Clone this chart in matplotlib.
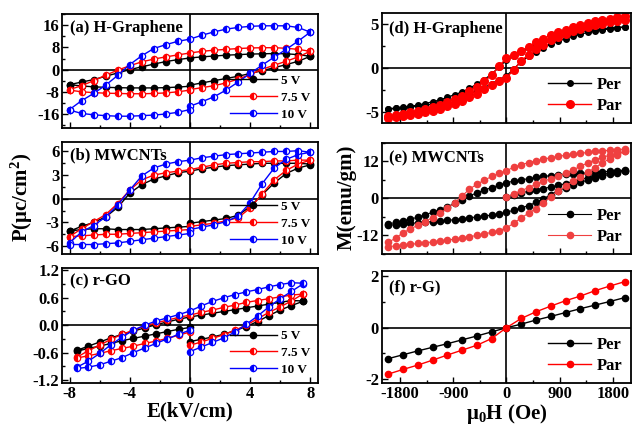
import matplotlib
matplotlib.use('Agg')
import matplotlib.pyplot as plt
from matplotlib.ticker import MultipleLocator

# fonts: bold Times-like everywhere
plt.rcParams['font.family'] = 'Liberation Serif'
plt.rcParams['font.weight'] = 'bold'
plt.rcParams['axes.labelweight'] = 'bold'
plt.rcParams['mathtext.fontset'] = 'custom'
plt.rcParams['mathtext.rm'] = 'Liberation Serif:bold'
plt.rcParams['mathtext.it'] = 'Liberation Serif:bold'
plt.rcParams['mathtext.bf'] = 'Liberation Serif:bold'
plt.rcParams['axes.unicode_minus'] = False
plt.rcParams['xtick.direction'] = 'in'
plt.rcParams['ytick.direction'] = 'in'

# ---------------- P-E loops ----------------
# E grids (kV/cm)
E_ab = [-8, -7.2, -6.4, -5.6, -4.8, -4, -3.2, -2.4, -1.6, -0.8, 0,
        0.8, 1.6, 2.4, 3.2, 4, 4.8, 5.6, 6.4, 7.2, 8]
E_c = [-7.5, -6.75, -6, -5.25, -4.5, -3.75, -3, -2.25, -1.5, -0.75, 0,
       0.75, 1.5, 2.25, 3, 3.75, 4.5, 5.25, 6, 6.75, 7.5]
volt_labels = ['5 V', '7.5 V', '10 V']

# (a) H-Graphene : upper branch (on E grid), lower branch left (E<=0) and right (E>=0)
a_up = [[-5.4, -4.5, -3.6, -2.4, -1.2, 0.0, 1.0, 2.0, 2.9, 3.6, 4.2,
         4.6, 4.9, 5.2, 5.4, 5.6, 5.7, 5.8, 5.7, 5.4, 4.8],
        [-7.2, -5.8, -4.0, -2.0, -0.2, 1.4, 2.8, 3.8, 4.6, 5.3, 6.0,
         6.6, 7.0, 7.3, 7.6, 7.8, 7.9, 7.9, 7.7, 7.3, 6.6],
        [-14.4, -11.2, -8.6, -5.6, -2.1, 1.8, 5.0, 7.6, 9.0, 10.2, 11.0,
         12.4, 13.6, 14.6, 15.2, 15.6, 15.8, 15.8, 15.8, 15.2, 13.5]]
a_lo_left = [[-5.4, -5.9, -6.2, -6.4, -6.5, -6.6, -6.6, -6.6, -6.5, -6.3, -6.0],
             [-7.4, -8.0, -8.3, -8.5, -8.6, -8.7, -8.7, -8.6, -8.4, -8.0, -7.4],
             [-14.6, -15.8, -16.3, -16.6, -16.8, -16.8, -16.6, -16.4, -16.0, -15.4, -14.4]]
a_lo_right = [[-5.6, -4.8, -4.0, -3.2, -2.4, -1.4, -0.4, 0.7, 1.8, 3.0, 4.8],
              [-7.2, -6.5, -5.8, -4.8, -3.4, -1.8, 0.1, 1.6, 3.0, 4.6, 6.6],
              [-13.2, -11.6, -9.8, -7.4, -4.5, -1.4, 1.6, 4.5, 7.3, 10.3, 13.5]]

# (b) MWCNTs
b_up = [[-4.1, -3.5, -3.0, -2.3, -1.1, 0.7, 1.8, 2.5, 2.9, 3.3, 3.5,
         3.8, 4.0, 4.2, 4.3, 4.4, 4.5, 4.5, 4.5, 4.5, 4.4],
        [-4.8, -3.8, -2.9, -2.0, -0.6, 1.1, 2.4, 3.0, 3.3, 3.5, 3.7,
         4.0, 4.3, 4.5, 4.6, 4.7, 4.7, 4.8, 4.8, 4.9, 4.9],
        [-5.6, -4.2, -3.4, -2.3, -0.8, 1.1, 2.9, 3.9, 4.4, 4.7, 4.9,
         5.2, 5.4, 5.6, 5.7, 5.8, 5.9, 6.0, 6.0, 6.1, 5.9]]
b_lo_left = [[-4.1, -3.9, -3.8, -3.8, -3.9, -3.9, -3.9, -3.8, -3.7, -3.6, -3.5],
             [-4.8, -4.7, -4.6, -4.5, -4.5, -4.4, -4.3, -4.2, -4.1, -4.0, -3.9],
             [-5.8, -5.8, -5.8, -5.7, -5.6, -5.4, -5.2, -5.0, -4.8, -4.6, -4.4]]
b_lo_right = [[-3.1, -2.9, -2.7, -2.5, -2.1, -1.0, 0.5, 2.0, 3.2, 3.9, 4.3],
              [-3.5, -3.3, -3.1, -2.8, -2.4, -1.2, 0.6, 2.4, 3.6, 4.4, 4.9],
              [-3.9, -3.6, -3.3, -2.9, -2.2, -0.5, 1.9, 3.9, 5.0, 5.6, 5.9]]

# (c) r-GO
c_up = [[-0.55, -0.46, -0.37, -0.28, -0.20, -0.13, -0.06, 0.01, 0.07, 0.13, 0.18,
         0.22, 0.26, 0.30, 0.34, 0.38, 0.42, 0.46, 0.50, 0.54, 0.53],
        [-0.70, -0.56, -0.44, -0.31, -0.20, -0.11, -0.02, 0.05, 0.11, 0.17, 0.22,
         0.28, 0.33, 0.39, 0.44, 0.50, 0.54, 0.58, 0.62, 0.66, 0.68],
        [-0.92, -0.79, -0.62, -0.43, -0.26, -0.11, 0.00, 0.09, 0.16, 0.23, 0.31,
         0.42, 0.52, 0.60, 0.67, 0.73, 0.78, 0.84, 0.89, 0.93, 0.92]]
c_lo_left = [[-0.57, -0.51, -0.46, -0.40, -0.34, -0.29, -0.24, -0.19, -0.14, -0.09, -0.05],
             [-0.72, -0.67, -0.62, -0.56, -0.51, -0.46, -0.40, -0.35, -0.29, -0.22, -0.15],
             [-0.95, -0.92, -0.87, -0.79, -0.71, -0.60, -0.50, -0.40, -0.30, -0.20, -0.11]]
c_lo_right = [[-0.36, -0.31, -0.26, -0.20, -0.12, -0.03, 0.08, 0.21, 0.33, 0.43, 0.52],
              [-0.44, -0.37, -0.29, -0.21, -0.11, 0.00, 0.14, 0.28, 0.40, 0.53, 0.68],
              [-0.58, -0.48, -0.38, -0.28, -0.15, 0.02, 0.20, 0.40, 0.58, 0.74, 0.90]]

# ---------------- M-H loops ----------------
H = [-2000, -1875, -1750, -1625, -1500, -1375, -1250, -1125, -1000, -875, -750,
     -625, -500, -375, -250, -125, 0, 125, 250, 375, 500, 625, 750, 875, 1000,
     1125, 1250, 1375, 1500, 1625, 1750, 1875, 2000]

# (d) H-Graphene, descending (up) and ascending (lo) branches on H grid
d_per_up = [-4.6, -4.5, -4.4, -4.3, -4.2, -4.0, -3.8, -3.6, -3.3, -3.0, -2.7,
            -2.3, -1.8, -1.3, -0.7, 0.1, 0.9, 1.3, 1.8, 2.2, 2.6, 2.9, 3.2, 3.5,
            3.7, 3.9, 4.05, 4.2, 4.3, 4.4, 4.5, 4.55, 4.6]
d_per_lo = [-4.65, -4.55, -4.5, -4.4, -4.3, -4.2, -4.05, -3.9, -3.7, -3.5, -3.2,
            -2.9, -2.6, -2.2, -1.8, -1.3, -0.9, -0.1, 0.7, 1.3, 1.8, 2.3, 2.7, 3.0,
            3.3, 3.6, 3.8, 4.0, 4.2, 4.3, 4.4, 4.5, 4.6]
d_par_up = [-5.45, -5.3, -5.15, -5.0, -4.8, -4.6, -4.4, -4.15, -3.85, -3.5, -3.1,
            -2.6, -2.1, -1.5, -0.8, 0.2, 1.1, 1.5, 1.9, 2.4, 2.9, 3.3, 3.7, 4.0,
            4.3, 4.6, 4.85, 5.05, 5.25, 5.4, 5.55, 5.7, 5.85]
d_par_lo = [-5.6, -5.5, -5.4, -5.3, -5.15, -5.0, -4.8, -4.6, -4.3, -4.0, -3.7,
            -3.3, -2.9, -2.4, -1.9, -1.5, -1.1, -0.2, 0.8, 1.5, 2.1, 2.6, 3.1, 3.5,
            3.85, 4.15, 4.4, 4.6, 4.8, 5.0, 5.15, 5.3, 5.45]

# (e) MWCNTs, with initial (virgin) curve from H = 0 to 2000
e_per_virgin = [0.4, 1.1, 1.8, 2.3, 2.8, 3.2, 3.7, 4.2, 4.8, 5.4, 6.1, 6.7, 7.3,
                7.8, 8.2, 8.6, 8.9]
e_per_up = [-8.3, -7.8, -7.3, -6.7, -6.1, -5.3, -4.5, -3.6, -2.7, -1.6, -0.4,
            0.8, 1.8, 2.7, 3.5, 4.3, 5.1, 5.6, 6.0, 6.4, 6.8, 7.1, 7.4, 7.6,
            7.8, 8.0, 8.1, 8.3, 8.4, 8.6, 8.8, 9.0, 9.2]
e_per_lo = [-8.7, -8.5, -8.3, -8.1, -7.9, -7.7, -7.5, -7.3, -7.1, -6.9, -6.6,
            -6.3, -6.0, -5.7, -5.4, -5.0, -4.5, -3.8, -3.1, -2.3, -1.3, -0.1, 1.2,
            2.4, 3.5, 4.4, 5.2, 5.9, 6.6, 7.2, 7.8, 8.3, 8.8]
e_par_virgin = [0.5, 1.5, 2.5, 3.5, 4.6, 5.5, 6.4, 7.3, 8.2, 9.2, 10.4, 11.5,
                12.5, 13.3, 14.0, 14.6, 15.2]
e_par_up = [-14.2, -12.9, -11.1, -9.9, -8.7, -7.5, -6.2, -4.8, -3.2, -1.4, 0.8,
            3.0, 4.6, 5.9, 7.1, 8.1, 9.0, 10.1, 10.9, 11.6, 12.2, 12.7, 13.2,
            13.6, 14.0, 14.3, 14.6, 14.9, 15.2, 15.4, 15.6, 15.8, 16.0]
e_par_lo = [-15.6, -15.4, -15.2, -14.9, -14.6, -14.4, -14.1, -13.8, -13.5, -13.2,
            -12.8, -12.4, -12.0, -11.5, -11.0, -10.4, -9.6, -8.0, -6.3, -4.8, -3.3,
            -1.4, 0.6, 2.4, 3.9, 5.5, 6.9, 8.4, 10.0, 11.5, 12.9, 14.1, 15.2]

# (f) r-G)
H_f = [-2000, -1750, -1500, -1250, -1000, -750, -500, -250, 0, 250, 500, 750,
       1000, 1250, 1500, 1750, 2000]
f_per = [-1.2, -1.05, -0.9, -0.76, -0.62, -0.47, -0.32, -0.16, 0.0, 0.14, 0.3,
         0.44, 0.59, 0.74, 0.88, 1.02, 1.17]
f_par = [-1.8, -1.62, -1.45, -1.26, -1.06, -0.87, -0.68, -0.42, 0.0, 0.36, 0.62,
         0.84, 1.05, 1.23, 1.44, 1.62, 1.79]


def pe_trace(E, up, lo_left, lo_right):
    # measurement order: 0 -> +Emax, +Emax -> -Emax, -Emax -> 0
    n = len(lo_left)
    x = E[n - 1:] + E[::-1] + E[:n]
    y = lo_right + up[::-1] + lo_left
    return x, y


def mh_trace(H, up, lo, virgin=None):
    x = H[::-1] + H
    y = up[::-1] + lo
    if virgin is not None:
        x = H[len(H) - len(virgin):] + x
        y = virgin + y
    return x, y


fig = plt.figure(figsize=(6.33, 4.29), dpi=100)

left_pos = [[0.098, 0.702, 0.404, 0.265],
            [0.098, 0.408, 0.404, 0.261],
            [0.098, 0.107, 0.404, 0.268]]
right_pos = [[0.603, 0.713, 0.394, 0.257],
             [0.603, 0.408, 0.394, 0.259],
             [0.603, 0.107, 0.394, 0.261]]

pe_colors = ['black', 'red', 'blue']
pe_sets = [(E_ab, a_up, a_lo_left, a_lo_right, '(a) H-Graphene', (-21, 20), 8),
           (E_ab, b_up, b_lo_left, b_lo_right, '(b) MWCNTs', (-7, 7.2), 3),
           (E_c, c_up, c_lo_left, c_lo_right, '(c) r-GO', (-1.27, 1.25), 0.6)]

for k, (E, up, lol, lor, title, ylim, ystep) in enumerate(pe_sets):
    ax = fig.add_axes(left_pos[k])
    ax.axhline(0, color='black', lw=1.2, zorder=1)
    ax.axvline(0, color='black', lw=1.2, zorder=1)
    for i in range(3):
        x, y = pe_trace(E, up[i], lol[i], lor[i])
        if i == 0:
            ax.plot(x, y, '-o', color='black', lw=1, ms=4.5, label=volt_labels[i])
        else:
            ax.plot(x, y, '-o', color=pe_colors[i], lw=1, ms=4.5, mew=0.9,
                    fillstyle='left', markerfacecoloralt='white',
                    label=volt_labels[i])
    ax.set_xlim(-8.5, 8.5)
    ax.set_ylim(*ylim)
    ax.xaxis.set_major_locator(MultipleLocator(4))
    ax.xaxis.set_minor_locator(MultipleLocator(2))
    ax.yaxis.set_major_locator(MultipleLocator(ystep))
    ax.yaxis.set_minor_locator(MultipleLocator(ystep / 2))
    ax.tick_params(which='major', length=4, width=1, labelsize=12, pad=2)
    ax.tick_params(which='minor', length=2, width=1)
    if k < 2:
        ax.tick_params(labelbottom=False)
    for s in ax.spines.values():
        s.set_linewidth(1.3)
    ax.text(0.03, 0.95, title, transform=ax.transAxes, va='top', fontsize=12)
    ax.legend(loc='lower right', frameon=False, fontsize=9.5, handlelength=3.6,
              labelspacing=0.35, borderaxespad=0.15, handletextpad=0.3)
    if k == 2:
        ax.set_xlabel('E(kV/cm)', fontsize=15, labelpad=0)

mh_sets = [('(d) H-Graphene', (-6.2, 6.2), 5),
           ('(e) MWCNTs', (-18, 18), 12),
           ('(f) r-G)', (-2.15, 2.2), 2)]

for k, (title, ylim, ystep) in enumerate(mh_sets):
    ax = fig.add_axes(right_pos[k])
    ax.axhline(0, color='black', lw=1.2, zorder=1)
    ax.axvline(0, color='black', lw=1.2, zorder=1)
    if k == 0:
        x, y = mh_trace(H, d_per_up, d_per_lo)
        ax.plot(x, y, '-o', color='black', lw=1, ms=4, label='Per')
        x, y = mh_trace(H, d_par_up, d_par_lo)
        ax.plot(x, y, '-o', color='red', lw=1, ms=5.5, label='Par')
    elif k == 1:
        x, y = mh_trace(H, e_per_up, e_per_lo, e_per_virgin)
        ax.plot(x, y, '-o', color='black', lw=0.8, ms=4.5, label='Per')
        x, y = mh_trace(H, e_par_up, e_par_lo, e_par_virgin)
        ax.plot(x, y, '-o', color='#ef4040', lw=0.8, ms=4.5, label='Par')
    else:
        ax.plot(H_f, f_per, '-o', color='black', lw=1, ms=4.5, label='Per')
        ax.plot(H_f, f_par, '-o', color='red', lw=1, ms=4.5, label='Par')
    ax.set_xlim(-2110, 2110)
    ax.set_ylim(*ylim)
    ax.xaxis.set_major_locator(MultipleLocator(900))
    ax.xaxis.set_minor_locator(MultipleLocator(450))
    ax.yaxis.set_major_locator(MultipleLocator(ystep))
    ax.yaxis.set_minor_locator(MultipleLocator(ystep / 2))
    ax.tick_params(which='major', length=4, width=1, labelsize=12, pad=2)
    ax.tick_params(which='minor', length=2, width=1)
    if k < 2:
        ax.tick_params(labelbottom=False)
    for s in ax.spines.values():
        s.set_linewidth(1.3)
    ax.text(0.03, 0.93, title, transform=ax.transAxes, va='top', fontsize=12)
    ax.legend(loc='lower right', frameon=False, fontsize=12, handlelength=2.6,
              labelspacing=0.3, borderaxespad=0.15, handletextpad=0.3)
    if k == 2:
        ax.set_xlabel(r'μ$_0$H (Oe)', fontsize=15, labelpad=0)

# shared y labels
fig.text(0.035, 0.54, r'P(μc/cm$^2$)', rotation=90, ha='center', va='center',
         fontsize=15)
fig.text(0.548, 0.54, 'M(emu/gm)', rotation=90, ha='center', va='center',
         fontsize=15)

fig.savefig('out.png', dpi=100)
